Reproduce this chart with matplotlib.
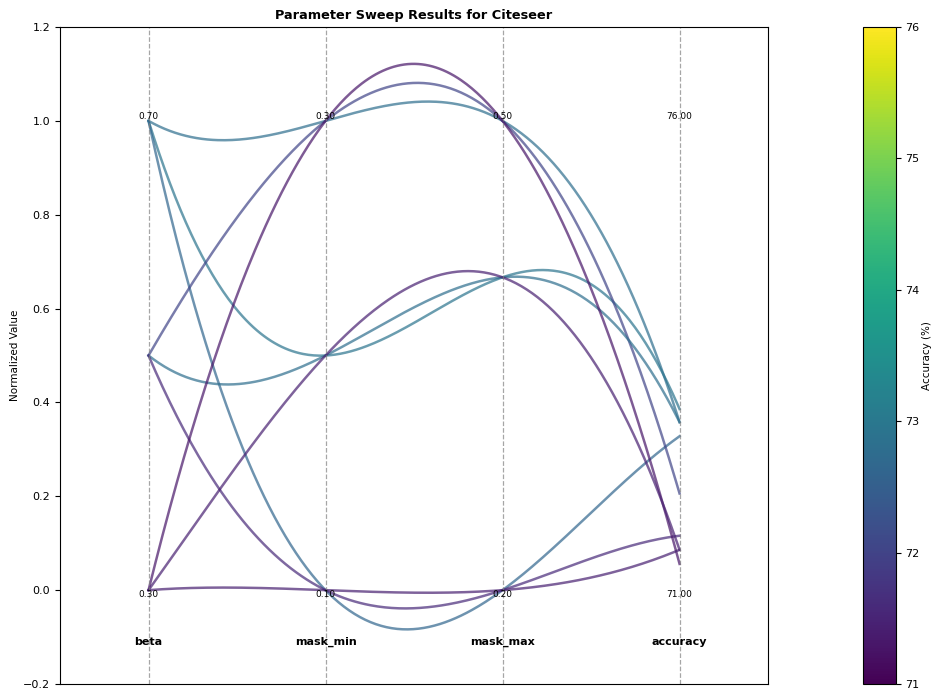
import numpy as np
import matplotlib
matplotlib.use('Agg')
import matplotlib.pyplot as plt
from matplotlib.colors import Normalize
from matplotlib.cm import ScalarMappable

# sweep results (one entry per run)
params = ['beta', 'mask_min', 'mask_max', 'accuracy']
beta = [0.7, 0.7, 0.7, 0.5, 0.5, 0.5, 0.3, 0.3, 0.3]
mask_min = [0.3, 0.2, 0.1, 0.3, 0.2, 0.1, 0.3, 0.2, 0.1]
mask_max = [0.5, 0.4, 0.2, 0.5, 0.4, 0.2, 0.5, 0.4, 0.2]
accuracy = [72.79, 72.93, 72.64, 72.03, 72.79, 71.58, 71.28, 71.43, 71.43]

# ranges used for normalising each axis
ranges = [(0.3, 0.7), (0.1, 0.3), (0.2, 0.5), (71.0, 76.0)]

fig = plt.figure(figsize=(9.32, 6.88), dpi=100)
ax = fig.add_axes([0.0644, 0.0058, 0.7597, 0.9549])
cax = fig.add_axes([0.926, 0.0058, 0.035, 0.9549])

cmap = plt.get_cmap('viridis')
norm = Normalize(vmin=71, vmax=76)

cols = [beta, mask_min, mask_max, accuracy]
xs = np.arange(len(params))
xx = np.linspace(0, len(params) - 1, 300)

for i in range(len(beta)):
    ys = []
    for j in range(len(params)):
        lo, hi = ranges[j]
        ys.append((cols[j][i] - lo) / (hi - lo))
    coef = np.polyfit(xs, ys, 3)
    ax.plot(xx, np.polyval(coef, xx), color=cmap(norm(accuracy[i])),
            alpha=0.7, linewidth=1.8)

for j, name in enumerate(params):
    ax.axvline(j, color='gray', linestyle='--', linewidth=0.9, alpha=0.7)
    lo, hi = ranges[j]
    ax.text(j, 1.0, f'{hi:.2f}', ha='center', va='bottom', fontsize=6.5)
    ax.text(j, 0.0, f'{lo:.2f}', ha='center', va='top', fontsize=6.5)
    ax.text(j, -0.11, name, ha='center', va='center', fontsize=8, fontweight='bold')

ax.set_xlim(-0.5, 3.5)
ax.set_ylim(-0.2, 1.2)
ax.set_xticks([])
ax.tick_params(axis='y', labelsize=8)
ax.set_ylabel('Normalized Value', fontsize=7.5, labelpad=2)
ax.set_title('Parameter Sweep Results for Citeseer', fontsize=9.3, fontweight='bold')

sm = ScalarMappable(norm=norm, cmap=cmap)
cb = fig.colorbar(sm, cax=cax)
cb.set_label('Accuracy (%)', fontsize=7.5, labelpad=2)
cb.ax.tick_params(labelsize=8)

fig.savefig('out.png', dpi=100)
